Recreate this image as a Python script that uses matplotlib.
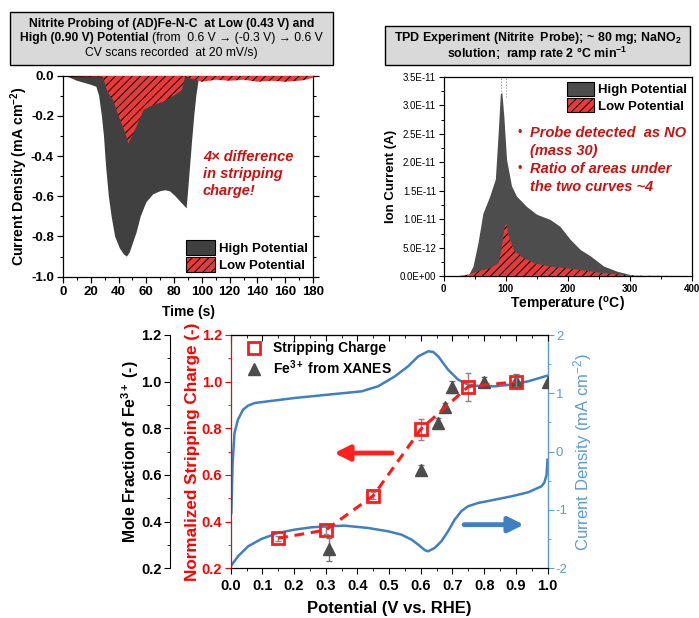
import matplotlib
matplotlib.use("Agg")
import matplotlib.pyplot as plt
from matplotlib.patches import Patch, Rectangle
from matplotlib.lines import Line2D
from matplotlib.ticker import MultipleLocator, FuncFormatter

plt.rcParams['font.family'] = ['Liberation Sans', 'DejaVu Sans']
plt.rcParams['mathtext.fontset'] = 'custom'
plt.rcParams['mathtext.rm'] = 'Liberation Sans'
plt.rcParams['mathtext.bf'] = 'Liberation Sans:bold'
plt.rcParams['mathtext.it'] = 'Liberation Sans:italic'
plt.rcParams['mathtext.default'] = 'regular'
plt.rcParams['hatch.linewidth'] = 0.7

# ---------------- data: panel 1 (CV stripping) ----------------
t_high = [0, 5, 10, 15, 20, 24, 26, 28, 29.5, 31, 33, 35, 37.5, 41, 44, 46, 48, 50, 53, 56, 60, 65, 70, 73.5, 77, 81, 85, 89, 90, 91.5, 93, 94.5, 96, 97.5, 98]
j_high = [0, -0.01, -0.025, -0.035, -0.045, -0.055, -0.1, -0.2, -0.3, -0.45, -0.6, -0.7, -0.8, -0.86, -0.89, -0.9, -0.88, -0.84, -0.78, -0.7, -0.63, -0.59, -0.575, -0.57, -0.575, -0.6, -0.63, -0.66, -0.58, -0.45, -0.32, -0.2, -0.1, -0.03, 0]
t_low = [0, 10, 20, 28, 29, 32, 36, 40, 43.5, 46, 47, 49, 51, 55, 58, 62, 67.5, 72, 79.6, 84, 85.6, 88, 90, 95, 100, 105, 110, 120, 130, 140, 150, 160, 170, 175, 180]
j_low = [0, -0.003, -0.004, -0.005, -0.01, -0.08, -0.12, -0.2, -0.26, -0.31, -0.337, -0.31, -0.28, -0.22, -0.17, -0.155, -0.14, -0.13, -0.1, -0.08, -0.07, -0.0, -0.01, -0.02, -0.03, -0.025, -0.02, -0.025, -0.02, -0.03, -0.025, -0.03, -0.025, -0.02, -0.01]

# ---------------- data: panel 2 (TPD) ----------------
T_high = [40, 48, 56, 64, 75, 84, 88.5, 92, 94.5, 97.7, 102, 110, 118, 134, 150.6, 172, 188, 204.6, 221, 237, 258.6, 280, 302, 307]
I_high = [0, 0.17e-11, 0.58e-11, 1.1e-11, 1.4e-11, 1.7e-11, 2.5e-11, 3.19e-11, 3.22e-11, 2.8e-11, 2.05e-11, 1.58e-11, 1.4e-11, 1.22e-11, 1.08e-11, 0.99e-11, 0.87e-11, 0.64e-11, 0.46e-11, 0.35e-11, 0.17e-11, 0.08e-11, 0.02e-11, 0]
T_low = [26, 40, 53, 75, 88.5, 94, 98, 101, 105, 113, 124, 145, 172, 199, 226, 253, 280, 296, 320, 350, 390]
I_low = [0.01e-11, 0.03e-11, 0.08e-11, 0.14e-11, 0.23e-11, 0.52e-11, 0.87e-11, 0.93e-11, 0.7e-11, 0.46e-11, 0.35e-11, 0.23e-11, 0.17e-11, 0.14e-11, 0.1e-11, 0.06e-11, 0.035e-11, 0.02e-11, 0.01e-11, 0.008e-11, 0.005e-11]
T_marks = [93, 100]

# ---------------- data: panel 3 ----------------
pot_strip = [0.15, 0.30, 0.45, 0.60, 0.75, 0.90]
strip = [0.329, 0.364, 0.511, 0.796, 0.979, 0.999]
strip_err = [0.01, 0.015, 0.015, 0.045, 0.06, 0.02]
pot_xanes = [0.31, 0.60, 0.653, 0.677, 0.70, 0.80, 0.90, 1.00]
fe3 = [0.281, 0.621, 0.824, 0.89, 0.976, 1.0, 1.004, 1.0]
fe3_err = [0.05, 0.02, 0.02, 0.02, 0.025, 0.02, 0.03, 0.0]
cv_up_x = [0.002, 0.006, 0.012, 0.023, 0.039, 0.055, 0.076, 0.118, 0.202, 0.307, 0.413, 0.465, 0.518, 0.56, 0.592, 0.623, 0.639, 0.655, 0.686, 0.718, 0.749, 0.79, 0.834, 0.886, 0.939, 1.0]
cv_up_y = [-1.05, -0.2, 0.32, 0.55, 0.72, 0.79, 0.834, 0.863, 0.92, 0.977, 1.034, 1.12, 1.29, 1.463, 1.634, 1.72, 1.71, 1.634, 1.406, 1.234, 1.149, 1.12, 1.12, 1.149, 1.206, 1.303]
cv_dn_x = [1.0, 0.997, 0.99, 0.981, 0.939, 0.886, 0.834, 0.781, 0.749, 0.728, 0.707, 0.686, 0.665, 0.644, 0.623, 0.613, 0.592, 0.571, 0.539, 0.497, 0.434, 0.36, 0.307, 0.255, 0.202, 0.149, 0.097, 0.055, 0.023, 0.0]
cv_dn_y = [-0.137, -0.4, -0.53, -0.594, -0.697, -0.766, -0.823, -0.88, -0.937, -1.02, -1.166, -1.366, -1.537, -1.65, -1.709, -1.69, -1.594, -1.509, -1.423, -1.366, -1.309, -1.269, -1.28, -1.297, -1.337, -1.394, -1.497, -1.623, -1.794, -1.966]

W, H = 699, 618
fig = plt.figure(figsize=(W / 100, H / 100), dpi=100)

def fx(px):
    return px / W

def fy(py):
    return 1 - py / H

def add_ax(l, t, r, b):
    return fig.add_axes([fx(l), fy(b), fx(r) - fx(l), fy(t) - fy(b)])

DARK = '#404040'
RED = '#e83a3a'
TXTRED = '#cc1111'

# ---------------- Panel 1 ----------------
ax1 = add_ax(63, 75.7, 313, 276.7)
ax1.fill_between(t_high, j_high, 0, facecolor=DARK, edgecolor='none', lw=0, zorder=2)
ax1.fill_between(t_low, j_low, 0, facecolor=RED, edgecolor='black', lw=0, hatch='////', zorder=3)
ax1.set_xlim(0, 180)
ax1.set_ylim(-1.0, 0.0)
ax1.xaxis.set_major_locator(MultipleLocator(20))
ax1.xaxis.set_minor_locator(MultipleLocator(10))
ax1.yaxis.set_major_locator(MultipleLocator(0.2))
ax1.yaxis.set_minor_locator(MultipleLocator(0.1))
ax1.yaxis.set_major_formatter(FuncFormatter(lambda v, p: f"{v:.1f}".replace("-0.0", "0.0")))
ax1.tick_params(which='both', direction='out', top=False, right=True, labelsize=9.5)
ax1.tick_params(which='major', length=4, width=0.9, pad=2.5)
ax1.tick_params(which='minor', length=2.5, width=0.8)
for lab in ax1.get_xticklabels() + ax1.get_yticklabels():
    lab.set_fontweight('bold')
ax1.set_xlabel('Time (s)', fontsize=10, fontweight='bold', labelpad=5)
ax1.set_ylabel('Current Density (mA cm$^{-2}$)', fontsize=10.2, fontweight='bold', labelpad=1)
ax1.text(100.7, -0.37, '4× difference\nin stripping\ncharge!', color=TXTRED, fontsize=10.5,
         fontweight='bold', fontstyle='italic', va='top', ha='left', linespacing=1.25)
h1 = [Patch(facecolor=DARK, edgecolor='black', lw=0.8),
      Patch(facecolor=RED, edgecolor='black', lw=0.8, hatch='////')]
ax1.legend(h1, ['High Potential', 'Low Potential'], loc='lower right', frameon=False,
           prop={'weight': 'bold', 'size': 9.5}, handlelength=2.2, handleheight=1.3,
           handletextpad=0.35, labelspacing=0.2, borderaxespad=0.15, borderpad=0.2)
for s in ax1.spines.values():
    s.set_linewidth(0.9)

# title box 1
fig.patches.append(Rectangle((fx(10), fy(65)), fx(333) - fx(10), fy(12) - fy(65),
                             transform=fig.transFigure, facecolor='#d9d9d9', edgecolor='black', lw=1))
fig.text(fx(171.5), fy(24), 'Nitrite Probing of (AD)Fe-N-C  at Low (0.43 V) and', ha='center', va='center',
         fontsize=8.7, fontweight='bold')
renderer = fig.canvas.get_renderer()
tA = fig.text(fx(20), fy(38), 'High (0.90 V) Potential', ha='left', va='center', fontsize=8.7, fontweight='bold')
bb = tA.get_window_extent(renderer)
fig.text(bb.x1 / fig.dpi / fig.get_figwidth() + fx(3), fy(38), '(from  0.6 V → (-0.3 V) → 0.6 V',
         ha='left', va='center', fontsize=8.7)
fig.text(fx(171.5), fy(53), 'CV scans recorded  at 20 mV/s)', ha='center', va='center', fontsize=8.7)

# ---------------- Panel 2 ----------------
ax2 = add_ax(443.7, 77, 692, 276.3)
ax2.fill_between(T_high, I_high, 0, facecolor='#4d4d4d', edgecolor='none', lw=0, zorder=2)
ax2.fill_between(T_low, I_low, 0, facecolor=RED, edgecolor='black', lw=0, hatch='////', zorder=3)
for tm in T_marks:
    ax2.axvline(tm, ymin=0.9, ymax=1.0, color='#999999', ls=':', lw=0.8, zorder=1)
ax2.set_xlim(0, 400)
ax2.set_ylim(0, 3.5e-11)
ax2.xaxis.set_major_locator(MultipleLocator(100))
ax2.xaxis.set_minor_locator(MultipleLocator(50))
ax2.yaxis.set_major_locator(MultipleLocator(0.5e-11))
ax2.yaxis.set_minor_locator(MultipleLocator(0.25e-11))
ax2.yaxis.set_major_formatter(FuncFormatter(lambda v, p: ("%.1E" % v).replace("E-0", "E-") if abs(v) > 1e-15 else "0.0E+00"))
ax2.tick_params(which='both', direction='out', top=False, right=False)
ax2.tick_params(axis='y', labelsize=7)
ax2.tick_params(axis='x', labelsize=7)
ax2.tick_params(which='major', length=3.5, width=0.8, pad=2)
ax2.tick_params(which='minor', length=2, width=0.7)
for lab in ax2.get_xticklabels():
    lab.set_fontweight('bold')
ax2.set_xlabel('Temperature ($^{o}$C)', fontsize=10, fontweight='bold', labelpad=1)
ax2.set_ylabel('Ion Current (A)', fontsize=9.5, fontweight='bold', labelpad=2)
h2 = [Patch(facecolor='#4d4d4d', edgecolor='black', lw=0.8),
      Patch(facecolor=RED, edgecolor='black', lw=0.8, hatch='////')]
ax2.legend(h2, ['High Potential', 'Low Potential'], loc='upper right', frameon=False,
           prop={'weight': 'bold', 'size': 9.5}, handlelength=2.0, handleheight=1.2,
           handletextpad=0.3, labelspacing=0.15, borderaxespad=0.1, borderpad=0.3)
lines2 = [(127, '•', 'Probe detected  as NO'), (145, '', '(mass 30)'),
          (163, '•', 'Ratio of areas under'), (181, '', 'the two curves ~4')]
for yy, bul, txt in lines2:
    if bul:
        fig.text(fx(518), fy(yy + 6), bul, color=TXTRED, fontsize=9, ha='left', va='center')
    fig.text(fx(530), fy(yy + 6), txt, color=TXTRED, fontsize=10.5, fontweight='bold',
             fontstyle='italic', ha='left', va='center')
for s in ax2.spines.values():
    s.set_linewidth(0.9)

fig.patches.append(Rectangle((fx(385), fy(65)), fx(690) - fx(385), fy(26) - fy(65),
                             transform=fig.transFigure, facecolor='#d9d9d9', edgecolor='black', lw=1))
fig.text(fx(537.5), fy(38), 'TPD Experiment (Nitrite  Probe); ~ 80 mg; NaNO$_{2}$', ha='center', va='center',
         fontsize=8.9, fontweight='bold')
fig.text(fx(537.5), fy(54), 'solution;  ramp rate 2 °C min$^{-1}$', ha='center', va='center',
         fontsize=8.9, fontweight='bold')

# ---------------- Panel 3 ----------------
BLUE = '#3f7fc4'
BLUE_AX = '#5b9bd5'
ax3 = add_ax(230.7, 335, 547.5, 568.3)
ax_cv = ax3.twinx()
ax_mf = ax3.twinx()
ax3.set_zorder(3)
ax3.patch.set_visible(False)
ax_cv.set_zorder(1)
ax_mf.set_zorder(2)

ax_cv.plot(cv_up_x, cv_up_y, color=BLUE, lw=1.8, solid_joinstyle='round')
ax_cv.plot(cv_dn_x, cv_dn_y, color=BLUE, lw=1.8, solid_joinstyle='round')
ax_cv.set_ylim(-2, 2)
ax_cv.yaxis.set_major_locator(MultipleLocator(1))
ax_cv.yaxis.set_minor_locator(MultipleLocator(0.5))
ax_cv.yaxis.set_major_formatter(FuncFormatter(lambda v, p: f"{v:.0f}".replace("−", "-")))
ax_cv.tick_params(axis='y', which='both', direction='out', colors=BLUE_AX, labelsize=9.5)
ax_cv.tick_params(axis='y', which='major', length=4, pad=2)
ax_cv.tick_params(axis='y', which='minor', length=2.5)
ax_cv.spines['right'].set_color(BLUE_AX)
ax_cv.spines['right'].set_linewidth(1.0)
ax_cv.set_ylabel('Current Density (mA cm$^{-2}$)', color=BLUE_AX, fontsize=12, labelpad=2)

ax3.errorbar(pot_xanes, fe3, yerr=fe3_err, fmt='^', color='#4d4d4d', ecolor='#777777',
             ms=8, capsize=2.5, elinewidth=1.0, zorder=3)
ax3.errorbar(pot_strip, strip, yerr=strip_err, fmt='none', ecolor='#888888',
             capsize=2.5, elinewidth=1.0, zorder=4)
ax3.plot(pot_strip, strip, color='#ff1a1a', lw=2.2, ls=(0, (3.2, 2.2)), zorder=4)
ax3.plot(pot_strip, strip, 's', mfc='none', mec='#ff1a1a', mew=2, ms=9, ls='none', zorder=5)

ax3.set_xlim(0, 1.0)
ax3.set_ylim(0.2, 1.2)
ax_mf.set_ylim(0.2, 1.2)
ax3.xaxis.set_major_locator(MultipleLocator(0.1))
ax3.xaxis.set_minor_locator(MultipleLocator(0.05))
ax3.yaxis.set_major_locator(MultipleLocator(0.2))
ax3.yaxis.set_minor_locator(MultipleLocator(0.1))
ax3.tick_params(axis='x', which='both', direction='out', top=False, labelsize=10.5)
ax3.tick_params(axis='x', which='major', length=4)
ax3.tick_params(axis='x', which='minor', length=2.5)
ax3.tick_params(axis='y', which='both', direction='out', colors='#ff0000', labelsize=10.5)
ax3.tick_params(axis='y', which='major', length=4, pad=2)
ax3.tick_params(axis='y', which='minor', length=2.5)
ax3.spines['left'].set_color('#ff0000')
ax3.spines['right'].set_visible(False)
ax3.xaxis.set_major_formatter(FuncFormatter(lambda v, p: f"{v:.1f}"))
ax3.yaxis.set_major_formatter(FuncFormatter(lambda v, p: f"{v:.1f}"))
for lab in ax3.get_xticklabels() + ax3.get_yticklabels():
    lab.set_fontweight('bold')
ax3.set_ylabel('Normalized Stripping Charge (-)', color='#ff0000', fontsize=12.3, fontweight='bold', labelpad=1)
ax3.set_xlabel('Potential (V vs. RHE)', fontsize=12, fontweight='bold', labelpad=6)

# top spine inward ticks
ax_top = ax3.secondary_xaxis('top')
ax_top.xaxis.set_major_locator(MultipleLocator(0.1))
ax_top.xaxis.set_minor_locator(MultipleLocator(0.05))
ax_top.tick_params(which='both', direction='in', labeltop=False)
ax_top.tick_params(which='major', length=4)
ax_top.tick_params(which='minor', length=2.5)

# outer black mole fraction axis
ax_mf.yaxis.set_ticks_position('left')
ax_mf.yaxis.set_label_position('left')
ax_mf.spines['left'].set_visible(True)
ax_mf.spines['left'].set_position(('outward', 43.7))
ax_mf.spines['right'].set_visible(False)
ax_mf.spines['top'].set_visible(False)
ax_mf.spines['bottom'].set_visible(False)
ax_mf.yaxis.set_major_locator(MultipleLocator(0.2))
ax_mf.yaxis.set_minor_locator(MultipleLocator(0.1))
ax_mf.yaxis.set_major_formatter(FuncFormatter(lambda v, p: f"{v:.1f}"))
ax_mf.tick_params(axis='y', which='both', direction='out', labelsize=10.5)
ax_mf.tick_params(axis='y', which='major', length=4, pad=2)
ax_mf.tick_params(axis='y', which='minor', length=2.5)
for lab in ax_mf.get_yticklabels():
    lab.set_fontweight('bold')
ax_mf.set_ylabel('Mole Fraction of Fe$^{3+}$ (-)', fontsize=11.3, fontweight='bold', labelpad=0)

# arrows
ax3.annotate('', xy=(0.318, 0.694), xytext=(0.518, 0.694),
             arrowprops=dict(arrowstyle='-|>,head_length=0.9,head_width=0.45', color='#ff2020', lw=3.5))
ax3.annotate('', xy=(0.934, 0.387), xytext=(0.728, 0.387),
             arrowprops=dict(arrowstyle='-|>,head_length=0.9,head_width=0.45', color=BLUE, lw=3.5))

h3 = [Line2D([], [], marker='s', mfc='none', mec='#ff1a1a', mew=2, ms=8, ls='none'),
      Line2D([], [], marker='^', color='#4d4d4d', ms=9, ls='none')]
ax3.legend(h3, ['Stripping Charge', 'Fe$^{3+}$ from XANES'], loc='upper left', frameon=False,
           prop={'weight': 'bold', 'size': 10}, handletextpad=0.6, labelspacing=0.2,
           borderaxespad=0.0, borderpad=0.3, handlelength=1.5, bbox_to_anchor=(0.027, 0.99))

fig.savefig('out.png', dpi=100)
